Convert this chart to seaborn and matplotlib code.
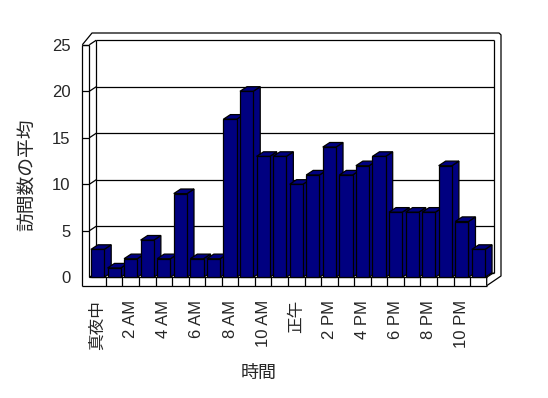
import matplotlib
matplotlib.use("Agg")
import matplotlib.pyplot as plt
import seaborn as sns
import pandas as pd
from matplotlib.patches import Polygon

# ---- data ----
hours = [f"{h}時" for h in range(24)]
visits = [3, 1, 2, 4, 2, 9, 2, 2, 17, 20, 13, 13, 10, 11, 14, 11, 12, 13, 7, 7, 7, 12, 6, 3]
tick_labels = ["真夜中", "2 AM", "4 AM", "6 AM", "8 AM", "10 AM", "正午",
               "2 PM", "4 PM", "6 PM", "8 PM", "10 PM"]
y_ticks = [0, 5, 10, 15, 20, 25]

sns.set_style("white")
plt.rcParams["font.family"] = ["Liberation Sans", "Noto Sans CJK JP"]

W, H = 548, 398
fig = plt.figure(figsize=(W / 100, H / 100), dpi=100)

# front plane of the 3D box in pixels
xl_px, xr_px = 89.3, 486.7
y0_px, y25_px = 277.3, 44.8
ax = fig.add_axes([xl_px / W, 1 - y0_px / H, (xr_px - xl_px) / W, (y0_px - y25_px) / H])

df = pd.DataFrame({"hour": pd.Categorical(hours, categories=hours, ordered=True), "visits": visits})
sns.barplot(data=df, x="hour", y="visits", order=hours, color="#000080", saturation=1,
            width=0.8, edgecolor="black", linewidth=0.9, ax=ax, errorbar=None)

ax.set_xlim(-0.5, 23.5)
ax.set_ylim(0, 25)
for s in ax.spines.values():
    s.set_visible(False)
ax.patch.set_alpha(0)

px_x = (xr_px - xl_px) / 24.0
px_y = (y0_px - y25_px) / 25.0
DX = 7.0 / px_x
DY = 4.6 / px_y
SLAB_X = 7.0 / px_x
SLAB_Y = 8.4 / px_y

lw = 0.9
kw = dict(color="black", lw=lw, clip_on=False, solid_capstyle="butt")

def line(pts, z=1):
    xs, ys = zip(*pts)
    ax.plot(xs, ys, zorder=z, **kw)

# back wall gridlines + left wall connectors
for v in y_ticks:
    line([(-0.5 + DX, v + DY), (23.5 + DX, v + DY)])
    line([(-0.5, v), (-0.5 + DX, v + DY)])
    if v > 0:
        line([(-0.5 - SLAB_X, v), (-0.5, v)])
# verticals
line([(-0.5, 0), (-0.5, 25)])
line([(-0.5 + DX, DY), (-0.5 + DX, 25 + DY)])
line([(23.5 + DX, DY), (23.5 + DX, 25 + DY)])
line([(-0.5 - SLAB_X, -SLAB_Y), (-0.5 - SLAB_X, 25)])
# top of left slab / back wall outer frame
top_out = (277.3 - 33) / px_y
right_out = (501 - xl_px) / px_x - 0.5
line([(-0.5 - SLAB_X, 25), (-0.5, 25)])
line([(-0.5 - SLAB_X, 25), (-0.337, top_out), (right_out - 0.12, top_out),
      (right_out, top_out - 0.2), (right_out, 0.14), (23.5, -SLAB_Y)])
# floor
line([(-0.5, 0), (23.5, 0)])
line([(-0.5 - SLAB_X, -SLAB_Y), (23.5, -SLAB_Y)])
line([(23.5, -SLAB_Y), (23.5, 0), (23.5 + DX, DY)])
for k in range(1, 24):
    line([(-0.5 + k, 0), (-0.5 + k, -SLAB_Y)])

# 3D faces of bars
for i, p in enumerate(ax.patches):
    x0, w, h = p.get_x(), p.get_width(), p.get_height()
    zb = 3 + i * 0.01
    side = Polygon([(x0 + w, 0), (x0 + w + DX, DY), (x0 + w + DX, h + DY), (x0 + w, h)],
                   closed=True, facecolor="#000080", edgecolor="black", lw=0.9,
                   zorder=zb, clip_on=False)
    top = Polygon([(x0, h), (x0 + DX, h + DY), (x0 + w + DX, h + DY), (x0 + w, h)],
                  closed=True, facecolor="#000080", edgecolor="black", lw=0.9,
                  zorder=zb, clip_on=False)
    ax.add_patch(side)
    ax.add_patch(top)
    p.set_zorder(zb + 0.005)
    p.set_clip_on(False)

# ticks and labels
ax.set_xticks(list(range(0, 24, 2)))
ax.set_xticklabels(tick_labels, rotation=90, va="top", ha="center", fontsize=12)
ax.set_yticks(y_ticks)
ax.set_yticklabels([str(v) for v in y_ticks], fontsize=12)
ax.tick_params(axis="x", length=0, pad=16.3)
ax.tick_params(axis="y", length=0, pad=13.5)

ax.set_xlabel("時間", fontsize=13)
ax.xaxis.set_label_coords((259 - xl_px) / (xr_px - xl_px), (y0_px - 365) / (y0_px - y25_px))
ax.set_ylabel("訪問数の平均", fontsize=13.5)
ax.yaxis.set_label_coords((37 - xl_px) / (xr_px - xl_px), (y0_px - 175) / (y0_px - y25_px))

fig.savefig("out.png", dpi=100)
